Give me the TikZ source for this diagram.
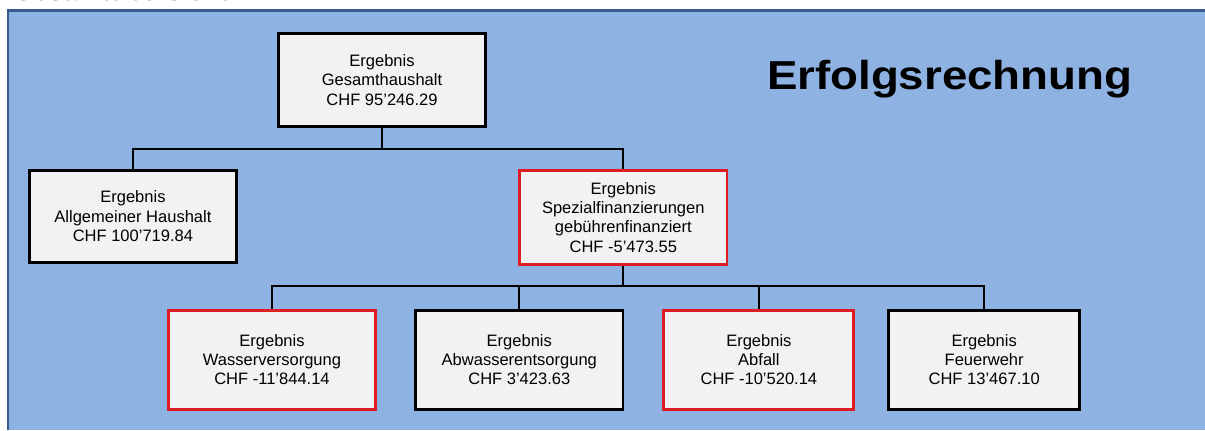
\documentclass[tikz,border=0pt]{standalone}
\usepackage{fontspec}
\setmainfont{Liberation Sans}
\usetikzlibrary{positioning}
\definecolor{SlideBlue}{RGB}{142, 178, 225}
\definecolor{FrameBlue}{RGB}{56, 90, 140}
\definecolor{BoxGray}{RGB}{242, 242, 242}
\definecolor{AlertRed}{RGB}{222, 28, 36}

\begin{document}
\begin{tikzpicture}[
      ergbox/.style={rectangle, draw=black, line width=1.6pt, fill=BoxGray, align=center,
      font=\fontsize{9.4}{11}\selectfont, inner sep=0pt, minimum width=4.15cm, minimum height=1.86cm},
      redbox/.style={ergbox, draw=AlertRed},
      lowbox/.style={minimum height=1.98cm},
      conn/.style={line width=1.1pt}
    ]
      \useasboundingbox (0,0) rectangle (24.1,-8.6);
      \clip (0,0) rectangle (24.1,-8.6);
      % background slide
      \fill[SlideBlue] (0.16,-0.21) rectangle (24.1,-8.6);
      \draw[line width=1.7pt, FrameBlue] (0.16,-8.6) |- (24.1,-0.21);
      \node[anchor=base west, font=\bfseries\fontsize{15}{18}\selectfont] (kopf) at (0.14,-0.01) {Gesamtübersicht};
      \node[anchor=base west, font=\bfseries\fontsize{23}{28}\selectfont, xscale=1.13, transform shape] (titel)
        at (15.2,-1.78) {Erfolgsrechnung};

      \node[ergbox] (gesamt) at (7.64,-1.6) {Ergebnis\\Gesamthaushalt\\CHF 95'246.29};
      \node[ergbox, minimum width=4.14cm, minimum height=1.84cm, below left=0.82cm and 0.78cm of gesamt] (allg)
        {Ergebnis\\Allgemeiner Haushalt\\CHF 100'719.84};
      \node[redbox, minimum height=1.88cm, below right=0.82cm and 0.62cm of gesamt] (spez)
        {Ergebnis\\Spezialfinanzierungen\\gebührenfinanziert\\CHF -5'473.55};
      \node[redbox, lowbox, below left=0.86cm and 2.82cm of spez] (wasser) {Ergebnis\\Wasserversorgung\\CHF -11'844.14};
      \node[ergbox, lowbox, right=0.74cm of wasser] (abwasser) {Ergebnis\\Abwasserentsorgung\\CHF 3'423.63};
      \node[redbox, lowbox, minimum width=3.8cm, right=0.76cm of abwasser] (abfall) {Ergebnis\\Abfall\\CHF -10'520.14};
      \node[ergbox, lowbox, minimum width=3.82cm, right=0.64cm of abfall] (feuer) {Ergebnis\\Feuerwehr\\CHF 13'467.10};

      \draw[conn] (gesamt.south) -- ++(0,-0.42) coordinate (j1);
      \draw[conn] (j1) -| (allg.north);
      \draw[conn] (j1) -| (spez.north);
      \draw[conn] (spez.south) -- ++(0,-0.4) coordinate (j2);
      \draw[conn] (j2) -| (wasser.north);
      \draw[conn] (j2) -| (abwasser.north);
      \draw[conn] (j2) -| (abfall.north);
      \draw[conn] (j2) -| (feuer.north);
    \end{tikzpicture}
\end{document}
